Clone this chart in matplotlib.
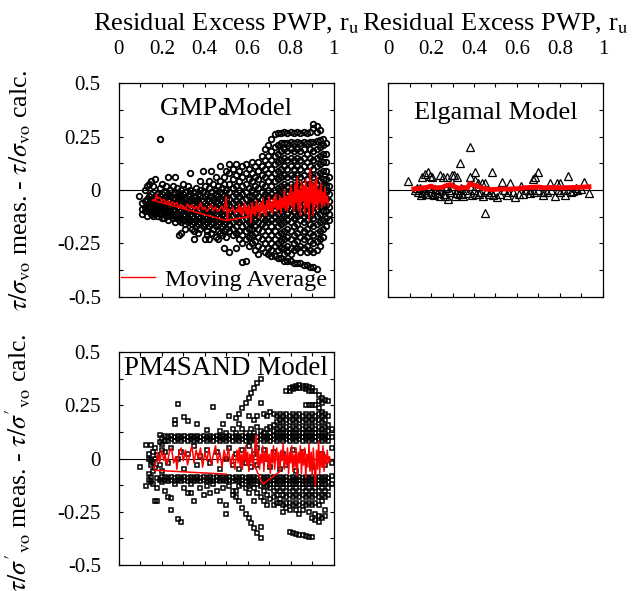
import matplotlib
matplotlib.use("Agg")
import matplotlib.pyplot as plt
from matplotlib.lines import Line2D
from matplotlib.ticker import FixedLocator, MultipleLocator

plt.rcParams['font.family'] = ['Liberation Serif', 'DejaVu Serif']
plt.rcParams['mathtext.fontset'] = 'stix'

# ---------------- data ----------------
x_ticks = [0, 0.2, 0.4, 0.6, 0.8, 1.0]
x_tick_labels = ["0", "0.2", "0.4", "0.6", "0.8", "1"]
y_ticks = [-0.5, -0.25, 0, 0.25, 0.5]
y_tick_labels = ["-0.5", "-0.25", "0", "0.25", "0.5"]

# GMP model, sparse part (ru < 0.5): column x, then y values in that column
gmp_left_x = [0.095, 0.11, 0.12, 0.13, 0.14, 0.15, 0.16, 0.17, 0.18, 0.19, 0.20,
              0.21, 0.22, 0.23, 0.24, 0.25, 0.26, 0.27, 0.28, 0.29, 0.30, 0.31,
              0.32, 0.33, 0.34, 0.35, 0.36, 0.37, 0.38, 0.39, 0.40, 0.41, 0.42,
              0.43, 0.44, 0.45, 0.46, 0.47, 0.48, 0.49, 0.50]
gmp_left_y = [
    [-0.03],
    [-0.06, -0.09, -0.11],
    [-0.05, -0.08, -0.10, 0.0],
    [-0.04, -0.07, -0.09, -0.12, 0.02],
    [-0.03, -0.06, -0.08, -0.10, 0.03],
    [-0.02, -0.05, -0.07, -0.09, -0.11, 0.04],
    [-0.04, -0.06, -0.08, -0.10, -0.12, 0.02],
    [-0.03, -0.05, -0.07, -0.09, -0.11, 0.05],
    [-0.02, -0.06, -0.08, -0.10, -0.12],
    [-0.03, -0.05, -0.07, -0.09, -0.11, 0.24, 0.01],
    [-0.02, -0.04, -0.08, -0.10, -0.13, 0.03],
    [-0.01, -0.05, -0.07, -0.09, -0.11, -0.13],
    [-0.03, -0.06, -0.08, -0.10, -0.12, 0.02],
    [-0.02, -0.04, -0.07, -0.09, -0.11, -0.14, 0.06],
    [0.0, -0.03, -0.05, -0.08, -0.10, -0.12],
    [-0.02, -0.06, -0.09, -0.11, -0.13, 0.02],
    [-0.01, -0.04, -0.07, -0.10, -0.12, -0.15, 0.06],
    [-0.03, -0.05, -0.08, -0.11, -0.13, 0.01],
    [-0.02, -0.04, -0.06, -0.09, -0.12, -0.14, -0.21],
    [0.0, -0.03, -0.07, -0.10, -0.13, -0.15, -0.20],
    [-0.02, -0.05, -0.08, -0.11, -0.14, 0.03],
    [-0.01, -0.04, -0.06, -0.09, -0.12, -0.16, -0.18],
    [-0.03, -0.07, -0.10, -0.13, -0.15, 0.02],
    [0.0, -0.02, -0.05, -0.08, -0.11, -0.14, 0.08],
    [-0.04, -0.06, -0.09, -0.12, -0.16, -0.18],
    [-0.01, -0.03, -0.07, -0.10, -0.13, -0.15, -0.19, -0.23],
    [0.01, -0.05, -0.08, -0.11, -0.14, -0.17],
    [-0.02, -0.04, -0.06, -0.09, -0.12, -0.16, -0.20],
    [0.0, -0.03, -0.07, -0.10, -0.13, -0.15, -0.18, 0.04],
    [-0.01, -0.05, -0.08, -0.11, -0.14, -0.17, 0.09],
    [0.02, -0.03, -0.06, -0.09, -0.12, -0.16, -0.23],
    [-0.02, -0.04, -0.07, -0.10, -0.13, -0.15, -0.19, -0.21],
    [0.01, -0.05, -0.08, -0.11, -0.14, -0.17, -0.23, 0.04],
    [-0.01, -0.03, -0.06, -0.09, -0.12, -0.16, -0.20, 0.09],
    [0.03, -0.04, -0.07, -0.10, -0.13, -0.15, -0.18],
    [0.0, -0.02, -0.05, -0.08, -0.11, -0.14, -0.17, -0.22, 0.06],
    [0.02, -0.03, -0.06, -0.09, -0.12, -0.16, -0.19, -0.23],
    [-0.01, -0.04, -0.07, -0.10, -0.13, -0.15, -0.20, 0.11, 0.04],
    [0.01, -0.02, -0.05, -0.08, -0.11, -0.14, -0.17, -0.21, 0.37],
    [0.03, -0.03, -0.06, -0.09, -0.12, -0.16, -0.19, -0.27, 0.06],
    [0.0, -0.04, -0.07, -0.10, -0.13, -0.15, -0.18, -0.22, 0.09],
]

# GMP model, dense part (ru > 0.5)
gmp_right_x = [0.515, 0.53, 0.545, 0.56, 0.575, 0.59, 0.605, 0.62, 0.635, 0.65,
               0.665, 0.68, 0.695, 0.71, 0.725, 0.74, 0.755, 0.77, 0.785, 0.80,
               0.815, 0.83, 0.845, 0.86, 0.875, 0.89, 0.905, 0.92, 0.935, 0.95,
               0.965, 0.98]
gmp_right_y = [
    [0.12, 0.08, 0.03, -0.01, -0.04, -0.07, -0.10, -0.13, -0.16, -0.19, -0.29],
    [0.10, 0.05, 0.01, -0.03, -0.06, -0.09, -0.12, -0.15, -0.18, -0.21],
    [0.12, 0.07, 0.02, -0.02, -0.05, -0.08, -0.11, -0.14, -0.17, -0.20, -0.27],
    [0.09, 0.04, 0.0, -0.03, -0.06, -0.09, -0.12, -0.15, -0.19, -0.23],
    [0.11, 0.06, 0.02, -0.02, -0.05, -0.08, -0.11, -0.14, -0.17, -0.21, -0.25, -0.335],
    [0.12, 0.08, 0.03, -0.01, -0.04, -0.07, -0.10, -0.13, -0.16, -0.19, -0.23, -0.333],
    [0.10, 0.05, 0.01, -0.03, -0.06, -0.09, -0.12, -0.15, -0.18, -0.22, -0.26],
    [0.13, 0.08, 0.04, 0.0, -0.03, -0.06, -0.09, -0.12, -0.15, -0.18, -0.21, -0.25],
    [0.11, 0.06, 0.02, -0.02, -0.05, -0.08, -0.11, -0.14, -0.17, -0.20, -0.24, -0.28],
    [0.13, 0.09, 0.05, 0.01, -0.03, -0.06, -0.09, -0.12, -0.15, -0.18, -0.22, -0.26, -0.30],
    [0.16, 0.11, 0.07, 0.03, -0.01, -0.04, -0.07, -0.10, -0.13, -0.16, -0.19, -0.23, -0.27],
    [0.19, 0.14, 0.10, 0.06, 0.02, -0.02, -0.05, -0.08, -0.11, -0.14, -0.17, -0.21, -0.25, -0.29],
    [0.21, 0.16, 0.12, 0.08, 0.04, 0.0, -0.03, -0.06, -0.09, -0.12, -0.15, -0.19, -0.23, -0.27, -0.30],
    [0.24, 0.18, 0.14, 0.10, 0.06, 0.02, -0.02, -0.05, -0.08, -0.11, -0.14, -0.17, -0.21, -0.25, -0.28, -0.31],
    [0.26, 0.20, 0.16, 0.12, 0.08, 0.04, 0.0, -0.03, -0.06, -0.09, -0.12, -0.15, -0.19, -0.23, -0.26, -0.31],
    [0.265, 0.21, 0.17, 0.13, 0.09, 0.05, 0.01, -0.02, -0.05, -0.08, -0.11, -0.14, -0.17, -0.21, -0.25, -0.28, -0.32],
    [0.265, 0.22, 0.18, 0.14, 0.10, 0.06, 0.02, -0.01, -0.04, -0.07, -0.10, -0.13, -0.16, -0.20, -0.24, -0.27, -0.32],
    [0.27, 0.22, 0.19, 0.15, 0.11, 0.07, 0.03, 0.0, -0.03, -0.06, -0.09, -0.12, -0.15, -0.19, -0.23, -0.27, -0.30, -0.33],
    [0.265, 0.22, 0.18, 0.14, 0.10, 0.06, 0.02, -0.02, -0.05, -0.08, -0.11, -0.14, -0.18, -0.22, -0.26, -0.29, -0.33],
    [0.27, 0.225, 0.19, 0.15, 0.11, 0.07, 0.03, 0.0, -0.03, -0.06, -0.09, -0.12, -0.15, -0.19, -0.23, -0.27, -0.30, -0.33],
    [0.265, 0.22, 0.18, 0.14, 0.10, 0.06, 0.02, -0.01, -0.04, -0.07, -0.10, -0.13, -0.17, -0.21, -0.25, -0.28, -0.34],
    [0.27, 0.225, 0.19, 0.15, 0.11, 0.07, 0.03, 0.0, -0.03, -0.06, -0.09, -0.12, -0.16, -0.20, -0.24, -0.27, -0.34],
    [0.265, 0.22, 0.18, 0.14, 0.10, 0.06, 0.02, -0.02, -0.05, -0.08, -0.11, -0.14, -0.18, -0.22, -0.26, -0.29, -0.34],
    [0.27, 0.225, 0.19, 0.15, 0.11, 0.07, 0.03, 0.0, -0.03, -0.06, -0.09, -0.12, -0.15, -0.19, -0.23, -0.27, -0.35],
    [0.265, 0.22, 0.17, 0.13, 0.09, 0.05, 0.01, -0.02, -0.05, -0.08, -0.11, -0.14, -0.18, -0.22, -0.26, -0.29, -0.35],
    [0.27, 0.225, 0.19, 0.15, 0.11, 0.07, 0.03, 0.0, -0.03, -0.06, -0.09, -0.12, -0.16, -0.20, -0.24, -0.28, -0.36],
    [0.31, 0.29, 0.225, 0.18, 0.14, 0.10, 0.06, 0.02, -0.01, -0.04, -0.07, -0.10, -0.13, -0.17, -0.21, -0.25, -0.29, -0.36],
    [0.30, 0.27, 0.23, 0.19, 0.15, 0.11, 0.07, 0.03, 0.0, -0.03, -0.06, -0.09, -0.12, -0.16, -0.20, -0.24, -0.28, -0.37],
    [0.28, 0.235, 0.20, 0.16, 0.12, 0.08, 0.04, 0.01, -0.02, -0.05, -0.08, -0.11, -0.15, -0.19, -0.23, -0.26],
    [0.24, 0.21, 0.17, 0.13, 0.09, 0.05, 0.02, -0.01, -0.04, -0.07, -0.10, -0.14, -0.18, -0.22],
    [0.22, 0.17, 0.13, 0.09, 0.05, 0.02, -0.01, -0.04, -0.07, -0.10, -0.13, -0.17],
    [0.06, 0.02, -0.02, -0.05, -0.08, -0.11, -0.14],
]

gmp_avg = [
    (0.16, -0.05), (0.17, -0.045), (0.175, -0.02), (0.18, -0.04), (0.19, -0.035),
    (0.20, -0.05), (0.21, -0.045), (0.22, -0.06), (0.23, -0.05), (0.24, -0.07),
    (0.25, -0.055), (0.26, -0.065), (0.27, -0.06), (0.28, -0.08), (0.29, -0.07),
    (0.30, -0.075), (0.31, -0.09), (0.32, -0.065), (0.33, -0.085), (0.34, -0.07),
    (0.35, -0.09), (0.36, -0.075), (0.37, -0.095), (0.38, -0.06), (0.39, -0.09),
    (0.40, -0.08), (0.41, -0.10), (0.42, -0.085), (0.43, -0.07), (0.44, -0.095),
    (0.45, -0.08), (0.46, -0.10), (0.47, -0.09), (0.48, -0.075), (0.49, -0.10),
    (0.50, -0.03), (0.505, -0.14), (0.51, -0.09), (0.52, -0.10), (0.53, -0.08),
    (0.54, -0.11), (0.55, -0.09),
    (0.555, -0.10), (0.56, -0.07), (0.565, -0.11), (0.57, -0.08), (0.575, -0.12),
    (0.58, -0.09), (0.585, -0.06), (0.59, -0.11), (0.595, -0.08), (0.60, -0.13),
    (0.605, -0.07), (0.61, -0.10), (0.615, -0.15), (0.62, -0.06), (0.625, -0.11),
    (0.63, -0.08), (0.635, -0.12), (0.64, -0.05), (0.645, -0.10), (0.65, -0.07),
    (0.655, -0.13), (0.66, -0.06), (0.665, -0.10), (0.67, -0.04), (0.675, -0.11),
    (0.68, -0.07), (0.685, -0.12), (0.69, -0.05), (0.695, -0.09), (0.70, -0.03),
    (0.705, -0.10), (0.71, -0.06), (0.715, -0.11), (0.72, -0.04), (0.725, -0.08),
    (0.73, -0.02), (0.735, -0.10), (0.74, -0.05), (0.745, -0.09), (0.75, -0.03),
    (0.755, -0.11), (0.76, -0.04), (0.765, -0.08), (0.77, 0.0), (0.775, -0.09),
    (0.78, -0.03), (0.785, -0.10), (0.79, -0.02), (0.795, -0.07), (0.80, 0.02),
    (0.805, -0.08), (0.81, -0.01), (0.815, -0.10), (0.82, 0.03), (0.825, -0.06),
    (0.83, 0.06), (0.835, -0.09), (0.84, 0.0), (0.845, -0.12), (0.85, 0.04),
    (0.855, -0.05), (0.86, 0.02), (0.865, -0.11), (0.87, 0.05), (0.875, -0.08),
    (0.88, 0.01), (0.885, -0.14), (0.89, 0.10), (0.895, -0.06), (0.90, 0.03),
    (0.905, -0.12), (0.91, 0.04), (0.915, -0.07), (0.92, 0.06), (0.925, -0.09),
    (0.93, 0.0), (0.935, -0.06), (0.94, 0.03), (0.945, -0.08), (0.95, -0.01),
    (0.955, -0.07), (0.96, 0.01), (0.965, -0.06), (0.97, -0.03), (0.975, -0.07),
]
gmp_avg_jump = [(0.60, -0.125), (0.50, -0.143), (0.158, -0.047)]

# Elgamal model
elg_pts = [
    (0.094, 0.044), (0.126, 0.0), (0.133, 0.011), (0.157, 0.062), (0.172, 0.077),
    (0.187, 0.085), (0.195, 0.065), (0.203, 0.062), (0.242, 0.07), (0.257, 0.062),
    (0.273, 0.062), (0.296, 0.07), (0.308, 0.07), (0.319, 0.062), (0.335, 0.124),
    (0.381, 0.202), (0.381, 0.062), (0.405, 0.085), (0.405, 0.047), (0.42, 0.031),
    (0.436, 0.034), (0.451, 0.031), (0.451, -0.106), (0.482, 0.082), (0.49, -0.023),
    (0.505, -0.031), (0.529, 0.039), (0.552, -0.023), (0.567, 0.034), (0.59, -0.031),
    (0.621, 0.019), (0.629, -0.019), (0.66, -0.016), (0.676, 0.05), (0.683, 0.062),
    (0.696, 0.082), (0.722, -0.023), (0.753, 0.031), (0.777, -0.028), (0.784, 0.031),
    (0.80, 0.031), (0.823, -0.023), (0.839, 0.065), (0.877, 0.008), (0.913, 0.039),
    (0.936, -0.012),
    (0.14, -0.01), (0.15, 0.01), (0.16, -0.015), (0.17, 0.0), (0.18, -0.02),
    (0.19, 0.01), (0.20, -0.01), (0.21, -0.02), (0.22, 0.005), (0.23, -0.015),
    (0.24, -0.03), (0.25, 0.0), (0.26, -0.02), (0.27, 0.01), (0.28, -0.04),
    (0.29, -0.01), (0.30, 0.02), (0.31, -0.03), (0.32, 0.0), (0.33, -0.02),
    (0.34, 0.01), (0.35, -0.03), (0.36, 0.0), (0.37, -0.015), (0.38, 0.02),
    (0.39, -0.025), (0.40, 0.0), (0.41, -0.02), (0.43, -0.01), (0.44, -0.03),
    (0.46, 0.0), (0.47, -0.02), (0.52, -0.02), (0.54, 0.0), (0.58, -0.01),
    (0.61, -0.02), (0.64, 0.0), (0.68, -0.01), (0.70, 0.0), (0.74, -0.01),
    (0.76, 0.0), (0.80, -0.01), (0.82, 0.0), (0.85, -0.01), (0.88, 0.0), (0.90, 0.005),
    (0.155, -0.025), (0.175, -0.02), (0.215, -0.025), (0.235, 0.0), (0.265, -0.03),
    (0.285, 0.0), (0.315, -0.015), (0.345, -0.02), (0.425, -0.02), (0.48, -0.01),
    (0.56, -0.01), (0.66, 0.0), (0.72, -0.01), (0.79, 0.0), (0.86, -0.005),
]
elg_avg = [
    (0.12, 0.005), (0.15, 0.008), (0.18, 0.012), (0.20, 0.018), (0.22, 0.01),
    (0.25, 0.012), (0.27, 0.02), (0.29, 0.025), (0.31, 0.015), (0.33, 0.008),
    (0.35, 0.012), (0.37, 0.01), (0.38, 0.03), (0.39, 0.025), (0.41, 0.02),
    (0.43, 0.012), (0.45, 0.005), (0.48, 0.002), (0.50, 0.003), (0.53, 0.005),
    (0.56, 0.004), (0.60, 0.006), (0.63, 0.01), (0.66, 0.012), (0.70, 0.014),
    (0.73, 0.01), (0.76, 0.012), (0.80, 0.01), (0.83, 0.011), (0.86, 0.012),
    (0.90, 0.013), (0.935, 0.015),
]

# PM4SAND model
pm_x = [0.097, 0.128, 0.14, 0.15, 0.16, 0.17, 0.18, 0.19, 0.20, 0.215, 0.23, 0.245,
        0.26, 0.275, 0.29, 0.305, 0.32, 0.335, 0.35, 0.365, 0.38, 0.395, 0.41,
        0.425, 0.44, 0.455, 0.47, 0.485, 0.50, 0.515, 0.53, 0.545, 0.56, 0.575,
        0.59, 0.605, 0.615, 0.63, 0.645, 0.66, 0.675, 0.69, 0.705, 0.72, 0.735,
        0.75, 0.765, 0.78, 0.795, 0.81, 0.825, 0.84, 0.855, 0.87, 0.885, 0.90,
        0.915, 0.93, 0.945, 0.96, 0.975, 0.99]
pm_y = [
    [-0.038],
    [0.063, -0.13],
    [-0.07, -0.10, 0.0, 0.02],
    [0.063, -0.005, -0.03, -0.085, -0.11],
    [0.03, -0.02, -0.06, -0.12],
    [0.05, 0.0, -0.2, -0.045],
    [0.015, -0.09, -0.2, -0.14],
    [0.11, 0.08, -0.03, -0.10],
    [0.095, 0.07, 0.04, -0.06, -0.085, -0.11],
    [0.105, 0.085, 0.03, -0.085, -0.10, -0.15],
    [0.10, 0.085, -0.02, -0.09, -0.105, -0.18],
    [0.105, 0.09, 0.05, -0.085, -0.10, -0.183, -0.24],
    [0.18, 0.165, 0.10, 0.085, -0.09, -0.105, -0.12],
    [0.259, 0.105, 0.09, 0.0, -0.085, -0.10, -0.285],
    [0.10, 0.085, 0.03, -0.09, -0.105, -0.30],
    [0.197, 0.105, 0.09, -0.05, -0.085, -0.10, -0.14],
    [0.178, 0.10, 0.085, 0.02, -0.09, -0.105, -0.16],
    [0.105, 0.09, -0.085, -0.10, -0.16, -0.12],
    [0.10, 0.085, 0.06, -0.09, -0.105, -0.20],
    [0.165, 0.105, 0.09, -0.03, -0.085, -0.10],
    [0.10, 0.085, 0.01, -0.09, -0.105, -0.14],
    [0.105, 0.09, -0.085, -0.10, -0.17],
    [0.134, 0.10, 0.085, 0.04, -0.09, -0.105, -0.13],
    [0.105, 0.09, -0.02, -0.085, -0.10, -0.16],
    [0.243, 0.10, 0.085, -0.09, -0.105, -0.12],
    [0.105, 0.09, 0.03, -0.085, -0.10, -0.15],
    [0.13, 0.10, 0.085, -0.05, -0.09, -0.105, -0.20],
    [0.165, 0.105, 0.09, -0.085, -0.10, -0.14],
    [0.12, 0.10, 0.085, 0.0, -0.09, -0.105, -0.22, -0.26],
    [0.20, 0.105, 0.09, 0.05, -0.085, -0.10, -0.13],
    [0.14, 0.10, 0.085, -0.03, -0.09, -0.105, -0.15, -0.17],
    [0.19, 0.12, 0.105, 0.09, 0.02, -0.085, -0.10, -0.15, -0.18],
    [0.21, 0.165, 0.10, 0.085, -0.05, -0.09, -0.105, -0.13, -0.20],
    [0.236, 0.14, 0.105, 0.09, 0.04, -0.085, -0.10, -0.12, -0.234],
    [0.26, 0.12, 0.10, 0.085, -0.02, -0.09, -0.105, -0.14, -0.258],
    [0.283, 0.20, 0.105, 0.09, 0.06, -0.085, -0.10, -0.13, -0.16, -0.281],
    [0.31, 0.14, 0.10, 0.085, -0.04, -0.09, -0.105, -0.12, -0.304],
    [0.33, 0.18, 0.12, 0.105, 0.09, 0.02, -0.085, -0.10, -0.14, -0.20, -0.327],
    [0.355, 0.20, 0.15, 0.10, 0.085, 0.05, -0.03, -0.09, -0.105, -0.12, -0.16, -0.35],
    [0.376, 0.26, 0.13, 0.105, 0.09, -0.085, -0.10, -0.13, -0.18, -0.32, -0.374],
    [0.21, 0.12, 0.10, 0.085, 0.04, -0.09, -0.105, -0.12, -0.15, -0.20],
    [0.20, 0.14, 0.105, 0.09, 0.0, -0.085, -0.10, -0.13, -0.17, -0.22],
    [0.22, 0.15, 0.12, 0.10, 0.085, -0.04, -0.09, -0.105, -0.12, -0.14, -0.19],
    [0.21, 0.16, 0.13, 0.105, 0.09, 0.03, -0.085, -0.10, -0.12, -0.15, -0.18, -0.22],
    [0.20, 0.17, 0.14, 0.12, 0.10, 0.085, -0.09, -0.105, -0.12, -0.14, -0.17, -0.21],
    [0.21, 0.18, 0.15, 0.12, 0.105, 0.09, -0.05, -0.085, -0.10, -0.12, -0.15, -0.19, -0.21],
    [0.20, 0.17, 0.14, 0.12, 0.10, 0.085, 0.02, -0.09, -0.105, -0.12, -0.14, -0.17, -0.22, -0.25],
    [0.32, 0.21, 0.18, 0.15, 0.12, 0.105, 0.09, -0.03, -0.085, -0.10, -0.12, -0.15, -0.18, -0.21, -0.23],
    [0.33, 0.32, 0.20, 0.17, 0.14, 0.12, 0.10, 0.085, -0.09, -0.105, -0.12, -0.14, -0.17, -0.21, -0.24, -0.345],
    [0.335, 0.325, 0.21, 0.18, 0.15, 0.12, 0.105, 0.09, 0.04, -0.085, -0.10, -0.12, -0.15, -0.18, -0.22, -0.35],
    [0.34, 0.33, 0.20, 0.17, 0.14, 0.12, 0.10, 0.085, -0.06, -0.09, -0.105, -0.12, -0.14, -0.17, -0.21, -0.24, -0.355],
    [0.345, 0.33, 0.21, 0.18, 0.15, 0.12, 0.105, 0.09, -0.085, -0.10, -0.12, -0.15, -0.18, -0.22, -0.26, -0.36],
    [0.34, 0.33, 0.20, 0.17, 0.14, 0.12, 0.10, 0.085, 0.03, -0.09, -0.105, -0.12, -0.14, -0.17, -0.21, -0.24, -0.36],
    [0.34, 0.325, 0.25, 0.21, 0.18, 0.15, 0.12, 0.105, 0.09, -0.085, -0.10, -0.12, -0.15, -0.18, -0.22, -0.365],
    [0.335, 0.32, 0.25, 0.20, 0.17, 0.14, 0.12, 0.10, 0.085, -0.09, -0.105, -0.12, -0.14, -0.17, -0.21, -0.25, -0.37],
    [0.33, 0.32, 0.25, 0.21, 0.18, 0.15, 0.12, 0.105, 0.09, -0.04, -0.085, -0.10, -0.12, -0.15, -0.18, -0.22, -0.28, -0.37],
    [0.32, 0.25, 0.20, 0.17, 0.14, 0.12, 0.10, 0.085, -0.09, -0.105, -0.12, -0.14, -0.17, -0.21, -0.26, -0.29],
    [0.30, 0.27, 0.24, 0.21, 0.18, 0.15, 0.12, 0.105, 0.09, -0.085, -0.10, -0.12, -0.15, -0.18, -0.22, -0.27, -0.30],
    [0.285, 0.26, 0.22, 0.20, 0.17, 0.14, 0.12, 0.10, 0.085, 0.02, -0.09, -0.105, -0.12, -0.14, -0.17, -0.20, -0.28],
    [0.275, 0.21, 0.18, 0.15, 0.12, 0.105, 0.09, -0.03, -0.085, -0.10, -0.12, -0.15, -0.18, -0.24, -0.27],
    [0.27, 0.20, 0.16, 0.13, 0.10, 0.085, -0.09, -0.11, -0.14, -0.17],
    [0.14, 0.10, 0.05, -0.02, -0.08, -0.12],
]

pm_avg = [
    (0.16, -0.038), (0.165, -0.04), (0.175, -0.01), (0.18, 0.03), (0.19, -0.02),
    (0.20, 0.04), (0.21, -0.01), (0.215, 0.02), (0.225, -0.03), (0.235, 0.03),
    (0.245, 0.05), (0.255, -0.02), (0.265, 0.01), (0.27, -0.05), (0.28, 0.03),
    (0.29, 0.05), (0.30, -0.01), (0.31, 0.04), (0.32, -0.03), (0.33, 0.02),
    (0.34, 0.06), (0.35, -0.02), (0.36, 0.04), (0.37, 0.0), (0.38, 0.05),
    (0.39, -0.04), (0.40, 0.03), (0.41, -0.01), (0.42, 0.05), (0.43, -0.03),
    (0.44, 0.02), (0.45, 0.06), (0.46, -0.02), (0.47, 0.03), (0.48, -0.04),
    (0.49, 0.04), (0.50, -0.01), (0.51, 0.05), (0.52, -0.03), (0.53, 0.02),
    (0.54, -0.05), (0.55, 0.04),
    (0.555, -0.02), (0.56, 0.05), (0.565, -0.04), (0.57, 0.02), (0.575, -0.05),
    (0.58, 0.04), (0.585, -0.01), (0.59, 0.06), (0.595, -0.03), (0.60, 0.03),
    (0.605, -0.06), (0.61, 0.02), (0.615, -0.02), (0.62, 0.05), (0.625, -0.04),
    (0.63, 0.01), (0.635, 0.07), (0.64, 0.11), (0.645, -0.03), (0.65, 0.04),
    (0.655, -0.05), (0.66, 0.02), (0.665, -0.02), (0.67, 0.06), (0.675, -0.06),
    (0.68, 0.03), (0.685, -0.01), (0.69, 0.05), (0.695, -0.04), (0.70, 0.02),
    (0.705, -0.07), (0.71, 0.04), (0.715, -0.02), (0.72, 0.06), (0.725, -0.05),
    (0.73, 0.01), (0.735, 0.05), (0.74, -0.04), (0.745, 0.03), (0.75, -0.06),
    (0.755, 0.04), (0.76, -0.01), (0.765, 0.07), (0.77, -0.05), (0.775, 0.02),
    (0.78, -0.03), (0.785, 0.05), (0.79, -0.07), (0.795, 0.03), (0.80, -0.02),
    (0.805, 0.06), (0.81, -0.06), (0.815, 0.02), (0.82, -0.04), (0.825, 0.05),
    (0.83, -0.08), (0.835, 0.03), (0.84, -0.02), (0.845, 0.06), (0.85, -0.07),
    (0.855, 0.04), (0.86, -0.03), (0.865, 0.05), (0.87, -0.09), (0.875, 0.02),
    (0.88, -0.04), (0.885, 0.07), (0.89, -0.06), (0.895, 0.03), (0.90, -0.08),
    (0.905, 0.05), (0.91, -0.03), (0.915, -0.13), (0.92, 0.04), (0.925, -0.05),
    (0.93, 0.08), (0.935, -0.07), (0.94, 0.03), (0.945, -0.04), (0.95, 0.06),
    (0.955, -0.06), (0.96, 0.02), (0.965, -0.03), (0.97, 0.04), (0.975, -0.02),
    (0.98, 0.01), (0.985, -0.01),
]
pm_avg_jump = [(0.50, -0.073), (0.17, -0.055), (0.16, -0.038)]
pm_avg_jump2 = [(0.63, -0.03), (0.67, -0.12), (0.75, -0.06)]


def flatten(cols_x, cols_y):
    xs, ys = [], []
    for x, col in zip(cols_x, cols_y):
        for y in col:
            xs.append(x)
            ys.append(y)
    return xs, ys


def unzip(pairs):
    return [p[0] for p in pairs], [p[1] for p in pairs]


def style_axes(ax, top_labels, left_labels):
    ax.set_xlim(0, 1)
    ax.set_ylim(-0.5, 0.5)
    ax.xaxis.set_major_locator(FixedLocator(x_ticks))
    ax.xaxis.set_minor_locator(MultipleLocator(0.1))
    ax.yaxis.set_major_locator(FixedLocator(y_ticks))
    ax.yaxis.set_minor_locator(MultipleLocator(0.125))
    ax.tick_params(which='both', direction='in', top=True, bottom=True,
                   left=True, right=True, length=3, width=0.8)
    ax.tick_params(labelbottom=False, labeltop=top_labels,
                   labelleft=left_labels, labelright=False, labelsize=15)
    ax.tick_params(axis='x', pad=17)
    ax.tick_params(axis='y', pad=13)
    if top_labels:
        ax.set_xticklabels(x_tick_labels)
        ax.xaxis.set_label_position('top')
        ax.set_xlabel(r'Residual Excess PWP, r$_\mathrm{u}$', fontsize=19, labelpad=7)
    if left_labels:
        ax.set_yticklabels(y_tick_labels)
    ax.axhline(0, color='black', lw=0.8, zorder=1)
    for s in ax.spines.values():
        s.set_linewidth(0.9)


fig = plt.figure(figsize=(6.32, 5.91), dpi=100)
ax1 = fig.add_axes([0.188, 0.4975, 0.340, 0.362])
ax2 = fig.add_axes([0.614, 0.4975, 0.340, 0.362])
ax3 = fig.add_axes([0.188, 0.044, 0.340, 0.360])

# GMP
gx1, gy1 = flatten(gmp_left_x, gmp_left_y)
gx2, gy2 = flatten(gmp_right_x, gmp_right_y)
ax1.plot(gx1 + gx2, gy1 + gy2, ls='none', marker='o', ms=4.0, mfc='none',
         mec='black', mew=1.3, zorder=2)
ax, ay = unzip(gmp_avg_jump + gmp_avg)
ax1.plot(ax, ay, color='red', lw=1.2, zorder=3)
style_axes(ax1, True, True)
ax1.text(0.5, 0.88, 'GMP Model', transform=ax1.transAxes, ha='center',
         va='center', fontsize=19, zorder=5)
ax1.set_ylabel(r'$\tau/\sigma_{\mathrm{vo}}$ meas. - $\tau/\sigma_{\mathrm{vo}}$ calc.',
               fontsize=18.5)
ax1.yaxis.set_label_coords(-0.40, 0.5)
ax1.legend(handles=[Line2D([], [], color='red', lw=1.0)], labels=['Moving Average'],
           loc='lower right', frameon=False, fontsize=17.5, handlelength=1.4,
           handletextpad=0.45, borderaxespad=0.15, borderpad=0.1)

# Elgamal
ex, ey = unzip(elg_pts)
ax2.plot(ex, ey, ls='none', marker='^', ms=5.5, mfc='none', mec='black',
         mew=0.9, zorder=2)
rx, ry = unzip(elg_avg)
ax2.plot(rx, ry, color='red', lw=3.5, zorder=3)
style_axes(ax2, True, False)
ax2.text(0.5, 0.86, 'Elgamal Model', transform=ax2.transAxes, ha='center',
         va='center', fontsize=19)

# PM4SAND
px, py = flatten(pm_x, pm_y)
ax3.plot(px, py, ls='none', marker='s', ms=3.2, mfc='none', mec='black',
         mew=1.1, zorder=2)
jx, jy = unzip(pm_avg_jump + pm_avg)
ax3.plot(jx, jy, color='red', lw=1.1, zorder=3)
jx2, jy2 = unzip(pm_avg_jump2)
ax3.plot(jx2, jy2, color='red', lw=1.1, zorder=3)
style_axes(ax3, False, True)
ax3.text(0.5, 0.925, 'PM4SAND Model', transform=ax3.transAxes, ha='center',
         va='center', fontsize=19.5, zorder=5)
ax3.set_ylabel(r"$\tau/\sigma'_{\mathrm{vo}}$ meas. - $\tau/\sigma'_{\mathrm{vo}}$ calc.",
               fontsize=18.5)
ax3.yaxis.set_label_coords(-0.40, 0.48)

fig.savefig('out.png', dpi=100)
